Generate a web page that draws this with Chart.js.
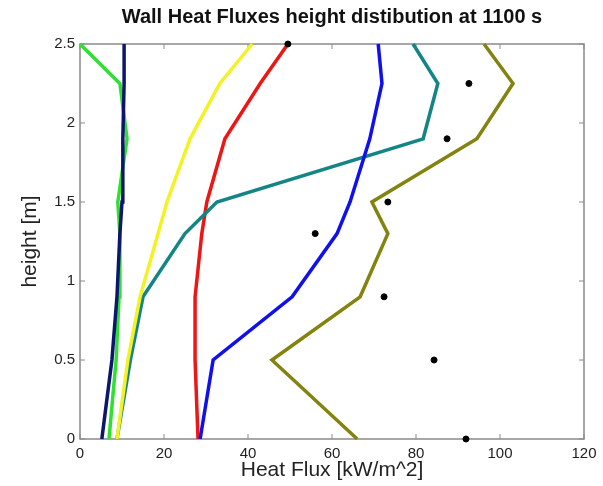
<!DOCTYPE html>
<html>
<head>
<meta charset="utf-8">
<script src="https://cdn.jsdelivr.net/npm/chart.js@4/dist/chart.umd.min.js"></script>
<style>
  html, body { margin: 0; padding: 0; background: #fff; }
  #wrap { width: 603px; height: 486px; }
</style>
</head>
<body>
<div id="wrap"><canvas id="chart" width="603" height="486"></canvas></div>
<script>
// heights [m] shared by all profiles
const heights = [0, 0.5, 0.9, 1.3, 1.5, 1.9, 2.25, 2.5];

// heat flux [kW/m^2] at each height
const greenFlux = [6.9, 8.6, 9.3, 9.5, 9.0, 11.2, 9.5, 0];
const navyFlux = [5.2, 7.6, 8.8, 9.5, 10.0, 10.2, 10.5, 10.5];
const yellowFlux = [8.8, 11.4, 14.3, 18.6, 20.7, 26.2, 33.3, 41.0];
const redFlux = [28.1, 27.4, 27.4, 29.0, 30.2, 34.5, 42.9, 49.5];
const tealFlux = [8.8, 12.0, 15.0, 25.0, 32.6, 81.7, 85.2, 79.3];
const blueFlux = [28.6, 31.7, 50.5, 61.2, 64.3, 69.0, 71.9, 71.0];
const oliveFlux = [66.0, 45.7, 66.7, 73.3, 69.5, 94.5, 103.1, 96.2];
const measuredFlux = [91.9, 84.3, 72.4, 56.0, 73.3, 87.4, 92.6, 49.5];

const xTicks = [0, 20, 40, 60, 80, 100, 120];
const yTicks = [0, 0.5, 1, 1.5, 2, 2.5];

const toPoints = (flux) => flux.map((v, i) => ({ x: v, y: heights[i] }));

const profile = (label, flux, color) => ({
  label: label,
  data: toPoints(flux),
  borderColor: color,
  backgroundColor: color,
  borderWidth: 3.5,
  pointRadius: 0,
  tension: 0,
  clip: false,
});

// first dataset ends up on top
const datasets = [
  {
    label: "measured",
    type: "scatter",
    data: toPoints(measuredFlux),
    backgroundColor: "#000",
    borderColor: "#000",
    pointRadius: 3,
    showLine: false,
    clip: false,
  },
  profile("blue", blueFlux, "#1010ee"),
  profile("yellow", yellowFlux, "#f2f224"),
  profile("teal", tealFlux, "#148585"),
  profile("red", redFlux, "#ee1515"),
  profile("navy", navyFlux, "#0c166e"),
  profile("green", greenFlux, "#30e030"),
  profile("olive", oliveFlux, "#838310"),
];

const AXIS_GREY = "#8a8a8a";
const FONT = "Liberation Sans, Arial, sans-serif";

// MATLAB style box with inward ticks on all four sides
const boxPlugin = {
  id: "box",
  beforeDatasetsDraw(chart) {
    const { ctx, chartArea: a, scales } = chart;
    const len = 5;
    ctx.save();
    ctx.strokeStyle = AXIS_GREY;
    ctx.lineWidth = 1.5;
    ctx.strokeRect(a.left, a.top, a.right - a.left, a.bottom - a.top);
    ctx.lineWidth = 1;
    ctx.beginPath();
    xTicks.forEach((t) => {
      const px = scales.x.getPixelForValue(t);
      ctx.moveTo(px, a.bottom);
      ctx.lineTo(px, a.bottom - len);
      ctx.moveTo(px, a.top);
      ctx.lineTo(px, a.top + len);
    });
    yTicks.forEach((t) => {
      const py = scales.y.getPixelForValue(t);
      ctx.moveTo(a.left, py);
      ctx.lineTo(a.left + len, py);
      ctx.moveTo(a.right, py);
      ctx.lineTo(a.right - len, py);
    });
    ctx.stroke();
    ctx.restore();
  },
};

new Chart(document.getElementById("chart"), {
  type: "line",
  data: { datasets: datasets },
  plugins: [boxPlugin],
  options: {
    responsive: false,
    animation: false,
    layout: { padding: { left: 0, right: 19, top: 0, bottom: 0 } },
    plugins: {
      legend: { display: false },
      tooltip: { enabled: false },
      title: {
        display: true,
        text: "Wall Heat Fluxes height distibution at 1100 s",
        fullSize: false,
        color: "#111",
        font: { family: FONT, size: 20, weight: "bold", lineHeight: 1.2 },
        padding: { top: 5, bottom: 15 },
      },
    },
    scales: {
      x: {
        type: "linear",
        min: 0,
        max: 120,
        afterFit: (scale) => { scale.height = 47; },
        afterBuildTicks: (scale) => { scale.ticks = xTicks.map((v) => ({ value: v })); },
        grid: { display: false, drawTicks: false },
        border: { display: false },
        ticks: {
          color: "#222",
          padding: 6,
          maxRotation: 0,
          callback: (v) => String(v),
          font: { family: FONT, size: 15 },
        },
        title: {
          display: true,
          text: "Heat Flux [kW/m^2]",
          color: "#222",
          font: { family: FONT, size: 21, lineHeight: 1.2 },
          padding: { top: 0, bottom: 3 },
        },
      },
      y: {
        type: "linear",
        min: 0,
        max: 2.5,
        afterFit: (scale) => { scale.width = 80; },
        afterBuildTicks: (scale) => { scale.ticks = yTicks.map((v) => ({ value: v })); },
        grid: { display: false, drawTicks: false },
        border: { display: false },
        ticks: {
          color: "#222",
          padding: 5,
          callback: (v) => String(v),
          font: { family: FONT, size: 15 },
        },
        title: {
          display: true,
          text: "height [m]",
          color: "#222",
          font: { family: FONT, size: 21, lineHeight: 1.2 },
          padding: { top: 18, bottom: 0 },
        },
      },
    },
  },
});
</script>
</body>
</html>
